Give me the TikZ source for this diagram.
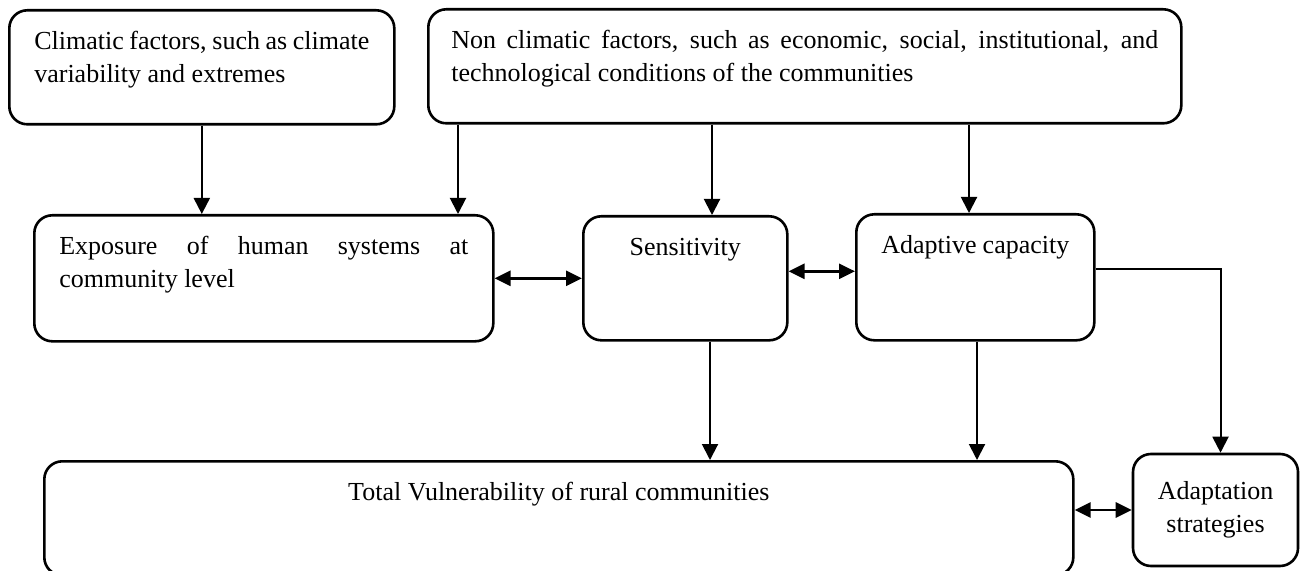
\documentclass[tikz,border=0pt]{standalone}
\usepackage{fontspec}
\setmainfont{Liberation Serif}
\usetikzlibrary{arrows.meta}

% text kept at the top of a box: width, height, text
\newcommand{\boxtext}[3]{\parbox[c][#2][t]{#1}{\strut#3}}

\tikzset{
    factor/.style={draw, line width=1.3pt, rounded corners=9pt, anchor=north west,
        inner xsep=12.5pt, inner ysep=8pt, font=\fontsize{13}{16.5}\selectfont},
    link/.style={line width=1pt, -{Triangle[length=8pt,width=8pt]}},
    twoway/.style={line width=1.4pt, {Triangle[length=8pt,width=7.5pt]}-{Triangle[length=8pt,width=7.5pt]}}
}

\begin{document}
\begin{tikzpicture}[x=0.5pt, y=-0.5pt]
    \useasboundingbox (0,0) rectangle (1304,571);

    % factors
    \node[factor] (climatic) at (8,9) {\boxtext{167.5pt}{41pt}{Climatic factors, such as climate\linebreak variability and extremes}};
    \node[factor, inner xsep=11.5pt] (nonclimatic) at (427,8) {\boxtext{353.5pt}{41pt}{Non climatic factors, such as economic, social, institutional, and\linebreak technological conditions of the communities}};

    % components
    \node[factor] (exposure) at (33,214) {\boxtext{204.5pt}{47pt}{Exposure of human systems at\linebreak community level}};
    \node[factor] (sensitivity) at (582,215) {\boxtext{77pt}{46pt}{\centering Sensitivity}};
    \node[factor] (adaptive) at (855,213) {\boxtext{94pt}{47pt}{\centering Adaptive capacity}};

    % outcome
    \node[factor] (total) at (43,460) {\boxtext{489.5pt}{41pt}{\centering Total Vulnerability of rural communities}};
    \node[factor, anchor=center, inner xsep=4pt, inner ysep=4pt, minimum width=82.5pt, minimum height=56pt,
        align=center] (strategies) at (1215.5,510) {Adaptation\\strategies};

    % arrow starts
    \coordinate (nc1) at ([xshift=15.5pt]nonclimatic.south west);
    \coordinate (nc2) at ([xshift=142.5pt]nonclimatic.south west);
    \coordinate (nc3) at ([xshift=271pt]nonclimatic.south west);
    \coordinate (se1) at ([xshift=64pt]sensitivity.south west);
    \coordinate (ad1) at ([xshift=61pt]adaptive.south west);
    \coordinate (ad2) at ([yshift=4pt]adaptive.east);
    \coordinate (se2) at ([yshift=3.5pt]sensitivity.east);
    \coordinate (st1) at ([xshift=2.5pt]strategies.north);

    \draw[link] (climatic) -- (climatic |- exposure.north);
    \draw[link] (nc1) -- (nc1 |- exposure.north);
    \draw[link] (nc2) -- (nc2 |- sensitivity.north);
    \draw[link] (nc3) -- (nc3 |- adaptive.north);

    \draw[twoway] (exposure) -- (sensitivity);
    \draw[twoway] (se2) -- (se2 -| adaptive.west);

    \draw[link] (se1) -- (se1 |- total.north);
    \draw[link] (ad1) -- (ad1 |- total.north);
    \draw[link] (ad2) -| (st1);
    \draw[twoway] (total.east |- strategies) -- (strategies.west);
\end{tikzpicture}
\end{document}
